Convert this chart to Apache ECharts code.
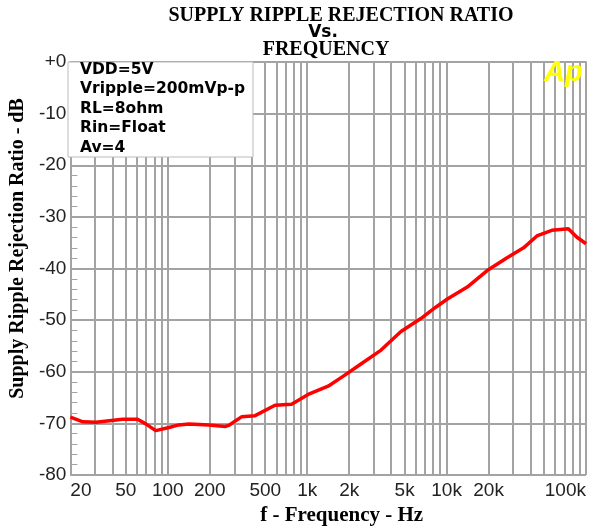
<!DOCTYPE html>
<html>
<head>
<meta charset="utf-8">
<script src="https://cdn.jsdelivr.net/npm/echarts@6/dist/echarts.min.js"></script>
<style>
  html, body { margin: 0; padding: 0; background: #fff; }
  #chart { width: 595px; height: 531px; }
</style>
</head>
<body>
<div id="chart"></div>
<script>
// frequency (Hz) / ripple rejection (dB)
const freq = [20, 24.6, 30.6, 47.4, 60.6, 69.5, 81.9, 102, 120, 142, 197, 258, 273, 340, 423, 588, 773,
  1016, 1413, 1806, 2400, 3388, 4707, 6536, 8360, 10130, 14070, 19540, 27160, 35660, 44440, 56860, 74680, 85700, 100000]
const srr = [-68.8, -69.7, -69.8, -69.2, -69.2, -70.1, -71.4, -70.8, -70.3, -70.1, -70.3, -70.6, -70.4, -68.7, -68.5, -66.5, -66.3,
  -64.4, -62.8, -60.9, -58.6, -55.8, -52.2, -49.7, -47.5, -45.9, -43.6, -40.4, -37.9, -36.0, -33.7, -32.6, -32.3, -33.9, -35.2]

// grid lines every 1-2-3...9 per decade, labels on 1-2-5
const gridFreqs = [20, 30, 40, 50, 60, 70, 80, 90, 100, 200, 300, 400, 500, 600, 700, 800, 900,
  1000, 2000, 3000, 4000, 5000, 6000, 7000, 8000, 9000, 10000, 20000, 30000, 40000, 50000, 60000, 70000, 80000, 90000, 100000]
const labelFreqs = [20, 50, 100, 200, 500, 1000, 2000, 5000, 10000, 20000, 100000]

const notes = ['VDD=5V', 'Vripple=200mVp-p', 'RL=8ohm', 'Rin=Float', 'Av=4']

const chart = echarts.init(document.getElementById('chart'))

const gridColor = '#a3a3a3'

const option = {
  animation: false,
  backgroundColor: '#fff',
  grid: {
    left: 67,
    right: 9,
    top: 62,
    bottom: 51
  },
  xAxis: {
    type: 'log',
    min: 20,
    max: 100000,
    name: 'f - Frequency - Hz',
    nameLocation: 'middle',
    nameGap: 30,
    nameTextStyle: {
      fontFamily: 'Liberation Serif',
      fontWeight: 'bold',
      fontSize: 21,
      color: '#000',
      padding: [0, 0, 0, 27]
    },
    axisLine: {lineStyle: {color: gridColor, width: 2}},
    axisTick: {show: false, customValues: gridFreqs},
    splitLine: {show: true, lineStyle: {color: gridColor, width: 2}},
    axisLabel: {
      customValues: labelFreqs,
      alignMinLabel: 'left',
      alignMaxLabel: 'right',
      fontFamily: 'Liberation Sans',
      fontSize: 19,
      color: '#222',
      margin: 6,
      formatter: function (v) {
        v = Math.round(v)
        return v >= 1000 ? (v / 1000) + 'k' : String(v)
      }
    }
  },
  yAxis: {
    type: 'value',
    min: -80,
    max: 0,
    interval: 10,
    name: 'Supply Ripple Rejection Ratio - dB',
    nameLocation: 'middle',
    nameGap: 33,
    nameTextStyle: {
      fontFamily: 'Liberation Serif',
      fontWeight: 'bold',
      fontSize: 20,
      color: '#000',
      padding: [0, 0, 0, 40]
    },
    axisLine: {show: true, lineStyle: {color: gridColor, width: 2}},
    axisTick: {show: true, inside: true, length: 7, lineStyle: {color: gridColor, width: 1}},
    minorTick: {show: true, splitNumber: 5, length: 7, lineStyle: {color: gridColor, width: 1}},
    splitLine: {show: true, lineStyle: {color: gridColor, width: 2}},
    axisLabel: {
      fontFamily: 'Liberation Sans',
      fontSize: 19,
      color: '#222',
      margin: 4,
      formatter: function (v) {
        return v === 0 ? '+0' : String(v)
      }
    }
  },
  series: [{
    type: 'line',
    data: freq.map((f, i) => [f, srr[i]]),
    showSymbol: false,
    lineStyle: {color: '#ff0000', width: 3.5},
    z: 5
  }],
  graphic: [
    {
      type: 'text', x: 341, y: 16,
      style: {text: 'SUPPLY RIPPLE REJECTION RATIO', font: 'bold 20px "Liberation Serif"', fill: '#000', textAlign: 'center', textVerticalAlign: 'middle'}
    },
    {
      type: 'text', x: 323, y: 33,
      style: {text: 'Vs.', font: 'bold 17px "DejaVu Sans"', fill: '#000', textAlign: 'center', textVerticalAlign: 'middle'}
    },
    {
      type: 'text', x: 326, y: 50,
      style: {text: 'FREQUENCY', font: 'bold 20px "Liberation Serif"', fill: '#000', textAlign: 'center', textVerticalAlign: 'middle'}
    },
    {
      type: 'rect', z: 10,
      shape: {x: 68, y: 62, width: 185, height: 95},
      style: {fill: '#fff', stroke: '#bbb', lineWidth: 1}
    },
    ...notes.map((t, i) => ({
      type: 'text', z: 11, x: 80, y: 69.5 + i * 19.6,
      style: {text: t, font: 'bold 15.5px "DejaVu Sans"', fill: '#000', textVerticalAlign: 'middle'}
    })),
    {
      type: 'text', z: 11, x: 544, y: 58,
      style: {text: 'Ap', font: 'italic bold 29px "Liberation Sans"', fill: '#ffff00'}
    }
  ]
}

chart.setOption(option)
</script>
</body>
</html>
